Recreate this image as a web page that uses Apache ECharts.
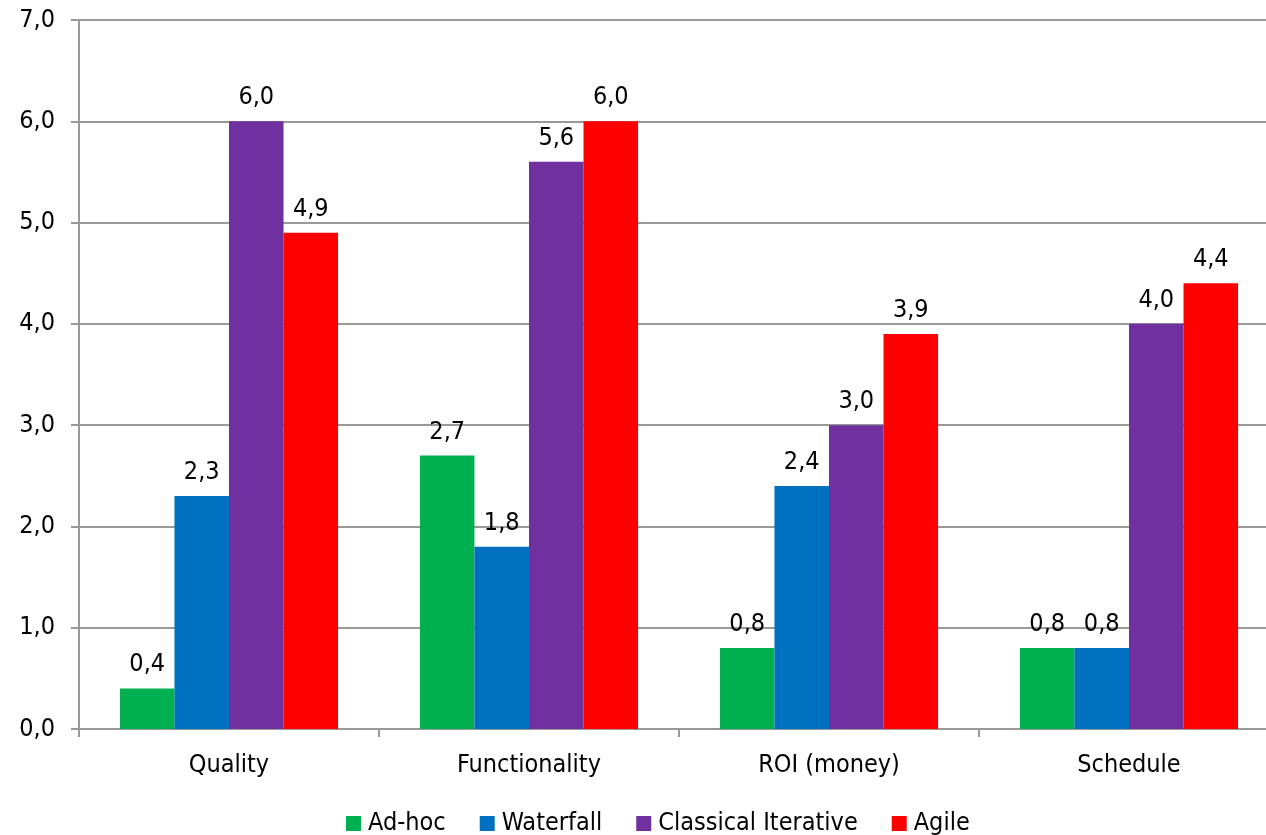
<!DOCTYPE html>
<html>
<head>
<meta charset="utf-8">
<style>
  html, body { margin: 0; padding: 0; background: #ffffff; overflow: hidden; width: 1266px; height: 835px; }
  /* the plot area continues a little past the right edge of the window */
  #chart { width: 1280px; height: 835px; }
</style>
<script src="https://cdn.jsdelivr.net/npm/echarts@6/dist/echarts.min.js"></script>
</head>
<body>
<div id="chart"></div>
<script>
// Categories and per-method scores
const categories = ['Quality', 'Functionality', 'ROI (money)', 'Schedule'];
const adHoc = [0.4, 2.7, 0.8, 0.8];
const waterfall = [2.3, 1.8, 2.4, 0.8];
const classicalIterative = [6.0, 5.6, 3.0, 4.0];
const agile = [4.9, 6.0, 3.9, 4.4];
const seriesNames = ['Ad-hoc', 'Waterfall', 'Classical Iterative', 'Agile'];
const seriesColors = ['#00B050', '#0070C0', '#7030A0', '#FF0000'];

const FONT = '"DejaVu Sans Condensed", "DejaVu Sans", sans-serif';
const fmt = v => Number(v).toFixed(1).replace('.', ',');

const chart = echarts.init(document.getElementById('chart'), null, { renderer: 'canvas' });

const seriesData = [adHoc, waterfall, classicalIterative, agile];

chart.setOption({
  backgroundColor: '#ffffff',
  animation: false,
  textStyle: { fontFamily: FONT },
  grid: { left: 79, width: 1200, top: 20, bottom: 106, containLabel: false },
  legend: {
    left: 341,
    top: 806,
    itemWidth: 15,
    itemHeight: 15,
    itemGap: 34,
    icon: 'rect',
    textStyle: { fontFamily: FONT, fontSize: 25, color: '#000', padding: [0, 0, 0, 2] },
    data: seriesNames
  },
  xAxis: {
    type: 'category',
    data: categories,
    axisLine: { show: true, lineStyle: { color: '#999999', width: 2 } },
    axisTick: { show: true, length: 8, lineStyle: { color: '#999999', width: 2 } },
    axisLabel: { fontFamily: FONT, fontSize: 25, color: '#000', margin: 24 },
    splitLine: { show: false }
  },
  yAxis: {
    type: 'value',
    min: 0,
    max: 7,
    interval: 1,
    axisLine: { show: true, lineStyle: { color: '#999999', width: 2 } },
    axisTick: { show: true, length: 8, lineStyle: { color: '#999999', width: 2 } },
    axisLabel: { fontFamily: FONT, fontSize: 25, color: '#000', margin: 24, formatter: fmt },
    splitLine: { show: true, lineStyle: { color: '#999999', width: 2 } }
  },
  series: seriesNames.map((name, i) => ({
    name,
    type: 'bar',
    data: seriesData[i],
    barGap: '0%',
    barCategoryGap: '27.3%',
    itemStyle: { color: seriesColors[i] },
    label: {
      show: true,
      position: 'top',
      distance: 11,
      fontFamily: FONT,
      fontSize: 25,
      color: '#000',
      formatter: p => fmt(p.value)
    }
  }))
});
</script>
</body>
</html>
